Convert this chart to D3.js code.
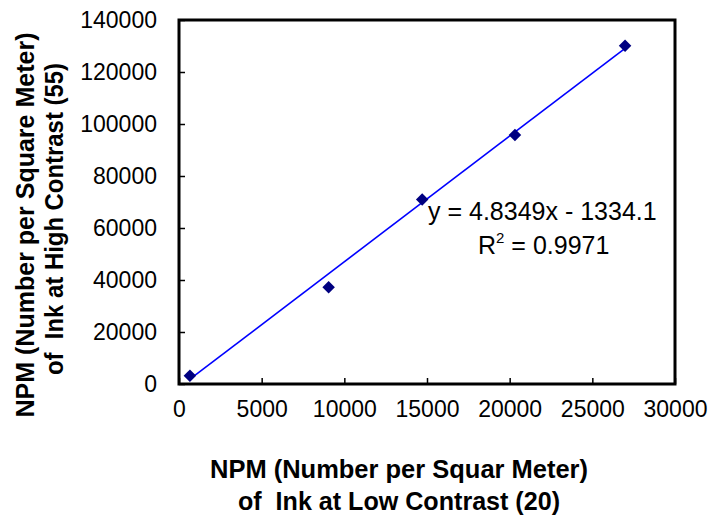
<!DOCTYPE html>
<html>
<head>
<meta charset="utf-8">
<script src="https://cdn.jsdelivr.net/npm/d3@7"></script>
<style>
  body { margin: 0; background: #fff; }
  text { font-family: "Liberation Sans", Arial, sans-serif; fill: #000; }
</style>
</head>
<body>
<div id="chart"></div>
<script>
// data
var lowContrast = [660, 9050, 14710, 20320, 26980];
var highContrast = [3200, 37200, 71000, 95800, 130100];
var xTicks = [0, 5000, 10000, 15000, 20000, 25000, 30000];
var yTicks = [0, 20000, 40000, 60000, 80000, 100000, 120000, 140000];
var slope = 4.8349, intercept = -1334.1;
var eqLabel = "y = 4.8349x - 1334.1";
var r2Label = "0.9971";

var width = 711, height = 515;
var margin = {top: 20, right: 36, bottom: 131, left: 179};
var chartW = width - margin.left - margin.right;
var chartH = height - margin.top - margin.bottom;

var svg = d3.select("#chart").append("svg")
    .attr("width", width)
    .attr("height", height);

var g = svg.append("g")
    .attr("transform", `translate(${margin.left}, ${margin.top})`);

var x = d3.scaleLinear().domain([0, 30000]).range([0, chartW]);
var y = d3.scaleLinear().domain([0, 140000]).range([chartH, 0]);

// axes, ticks pointing inward
var xAxis = g.append("g")
    .attr("transform", `translate(0, ${chartH})`)
    .call(d3.axisBottom(x).tickValues(xTicks).tickSizeInner(-6).tickSizeOuter(0).tickPadding(17).tickFormat(d3.format("d")));
var yAxis = g.append("g")
    .call(d3.axisLeft(y).tickValues(yTicks).tickSizeInner(-6).tickSizeOuter(0).tickPadding(22).tickFormat(d3.format("d")));

[xAxis, yAxis].forEach(function(a) {
  a.select(".domain").remove();
  a.selectAll("line").attr("stroke", "#000").attr("stroke-width", 1.5);
  a.selectAll("text").style("font-size", "23px").style("font-family", "'Liberation Sans', Arial, sans-serif");
});

// plot frame
g.append("rect")
    .attr("x", 0).attr("y", 0)
    .attr("width", chartW).attr("height", chartH)
    .attr("fill", "none")
    .attr("stroke", "#000")
    .attr("stroke-width", 3);

// trend line
var x0 = d3.min(lowContrast), x1 = d3.max(lowContrast);
g.append("line")
    .attr("x1", x(x0)).attr("y1", y(slope * x0 + intercept))
    .attr("x2", x(x1)).attr("y2", y(slope * x1 + intercept))
    .attr("stroke", "#0000ff")
    .attr("stroke-width", 1.6);

// markers
var pts = lowContrast.map(function(d, i) { return {x: d, y: highContrast[i]}; });
g.selectAll(".pt")
    .data(pts)
    .enter().append("path")
    .attr("class", "pt")
    .attr("transform", function(d) { return `translate(${x(d.x)}, ${y(d.y)})`; })
    .attr("d", d3.symbol(d3.symbolDiamond2, 100))
    .attr("fill", "#000080");

// equation labels
svg.append("text")
    .attr("x", 428).attr("y", 220)
    .style("font-size", "25px")
    .text(eqLabel);
var r2 = svg.append("text")
    .attr("x", 478).attr("y", 254)
    .style("font-size", "25px");
r2.append("tspan").text("R");
r2.append("tspan").attr("dy", -11).style("font-size", "15px").text("2");
r2.append("tspan").attr("dy", 11).text(" = " + r2Label);

// axis titles
function title(txt, tx, ty, rot, len) {
  svg.append("text")
      .attr("transform", `translate(${tx}, ${ty}) rotate(${rot})`)
      .attr("text-anchor", "middle")
      .attr("xml:space", "preserve")
      .attr("textLength", len)
      .attr("lengthAdjust", "spacingAndGlyphs")
      .style("font-size", "25px")
      .style("font-weight", "bold")
      .text(txt);
}
title("NPM (Number per Squar Meter)", 399, 478, 0, 378);
title("of  Ink at Low Contrast (20)", 399, 510, 0, 322);
title("NPM (Number per Square Meter)", 34, 225, -90, 385);
title("of  Ink at High Contrast (55)", 63, 219, -90, 312);
</script>
</body>
</html>
